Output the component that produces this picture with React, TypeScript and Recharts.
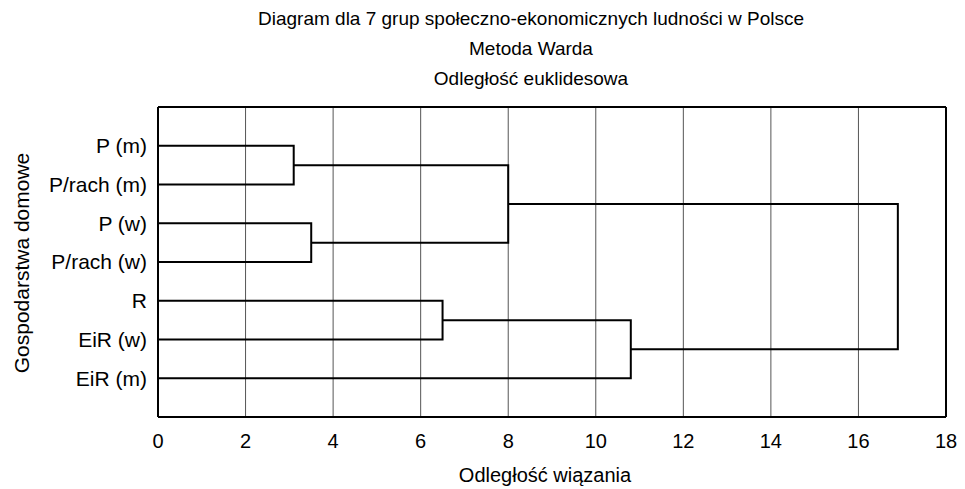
import { ComposedChart, Line, XAxis, YAxis, CartesianGrid } from "recharts";

const leafLabels = ["P (m)", "P/rach (m)", "P (w)", "P/rach (w)", "R", "EiR (w)", "EiR (m)"];
// node ids: 0-6 leaves, 7+ clusters in merge order
const mergePairs: [number, number][] = [
  [0, 1],
  [2, 3],
  [7, 8],
  [4, 5],
  [10, 6],
  [9, 11],
];
const mergeHeights = [3.1, 3.5, 8.0, 6.5, 10.8, 16.9];
const xTicks = [0, 2, 4, 6, 8, 10, 12, 14, 16, 18];
const minorTicks = [0, 1, 2, 3, 4, 5, 6, 7, 8, 9, 10, 11, 12, 13, 14, 15, 16, 17, 18];
const leafTicks = [1, 2, 3, 4, 5, 6, 7];

const titleLines = [
  "Diagram dla 7 grup społeczno-ekonomicznych ludności w Polsce",
  "Metoda Warda",
  "Odległość euklidesowa",
];
const xTitle = "Odległość wiązania";
const yTitle = "Gospodarstwa domowe";

type Pt = { x: number; y: number };

function buildLinks(): Pt[][] {
  const nodes: Pt[] = leafLabels.map((_, i) => ({ x: 0, y: i + 1 }));
  const links: Pt[][] = [];
  mergePairs.forEach(([a, b], k) => {
    const h = mergeHeights[k];
    const na = nodes[a];
    const nb = nodes[b];
    links.push([
      { x: na.x, y: na.y },
      { x: h, y: na.y },
      { x: h, y: nb.y },
      { x: nb.x, y: nb.y },
    ]);
    nodes.push({ x: h, y: (na.y + nb.y) / 2 });
  });
  return links;
}

const links = buildLinks();
const font = "'Liberation Sans', Arial, sans-serif";
const xTickStyle = { fontSize: 20, fill: "#000", fontFamily: font };
const yTickStyle = { fontSize: 21, fill: "#000", fontFamily: font };
const frame = { stroke: "#000", strokeWidth: 2 };
const smallTick = { stroke: "#000", strokeWidth: 2 };

export default function App() {
  return (
    <div style={{ position: "absolute", left: 0, top: 0, width: 965, height: 489, background: "#fff", fontFamily: font }}>
      <ComposedChart width={965} height={489} margin={{ top: 107, right: 19, bottom: 0, left: 0 }}>
        <CartesianGrid horizontal={false} stroke="#555" strokeWidth={1} />
        <XAxis
          type="number"
          dataKey="x"
          domain={[0, 18]}
          ticks={xTicks}
          allowDataOverflow
          height={72}
          tickLine={false}
          tickSize={0}
          tickMargin={17}
          axisLine={frame}
          tick={xTickStyle}
        />
        <XAxis
          xAxisId="top"
          orientation="top"
          type="number"
          dataKey="x"
          domain={[0, 18]}
          ticks={minorTicks}
          allowDataOverflow
          mirror
          height={1}
          tick={false}
          tickSize={3}
          tickLine={smallTick}
          axisLine={frame}
        />
        <XAxis
          xAxisId="minor"
          orientation="bottom"
          type="number"
          dataKey="x"
          domain={[0, 18]}
          ticks={minorTicks}
          allowDataOverflow
          mirror
          height={1}
          tick={false}
          tickSize={3}
          tickLine={smallTick}
          axisLine={false}
        />
        <YAxis
          type="number"
          domain={[0, 8]}
          reversed
          ticks={leafTicks}
          allowDataOverflow
          width={158}
          tickLine={false}
          tickSize={0}
          tickMargin={11}
          axisLine={frame}
          tick={yTickStyle}
          tickFormatter={(v: number) => leafLabels[v - 1] ?? ""}
        />
        <YAxis
          yAxisId="right"
          orientation="right"
          type="number"
          domain={[0, 8]}
          reversed
          ticks={leafTicks}
          allowDataOverflow
          mirror
          width={1}
          tick={false}
          tickSize={6}
          tickLine={smallTick}
          axisLine={frame}
        />
        {links.map((pts, i) => (
          <Line
            key={i}
            data={pts}
            dataKey="y"
            type="linear"
            stroke="#000"
            strokeWidth={2}
            strokeLinejoin="miter"
            dot={false}
            activeDot={false}
            isAnimationActive={false}
          />
        ))}
        {/* invisible series so the frame axes get drawn */}
        <Line
          data={links[0]}
          dataKey="y"
          xAxisId="top"
          yAxisId="right"
          stroke="none"
          dot={false}
          activeDot={false}
          isAnimationActive={false}
        />
        <Line
          data={links[0]}
          dataKey="y"
          xAxisId="minor"
          yAxisId="right"
          stroke="none"
          dot={false}
          activeDot={false}
          isAnimationActive={false}
        />
      </ComposedChart>
      <svg
        width={965}
        height={489}
        style={{ position: "absolute", left: 0, top: 0, pointerEvents: "none" }}
        fontFamily={font}
      >
        {titleLines.map((t, i) => (
          <text key={i} x={531} y={25 + i * 30} textAnchor="middle" fontSize={19} fill="#000">
            {t}
          </text>
        ))}
        <text x={545} y={482} textAnchor="middle" fontSize={20} fill="#000">
          {xTitle}
        </text>
        <text x={29} y={263} textAnchor="middle" fontSize={21} fill="#000" transform="rotate(-90 29 263)">
          {yTitle}
        </text>
      </svg>
    </div>
  );
}
